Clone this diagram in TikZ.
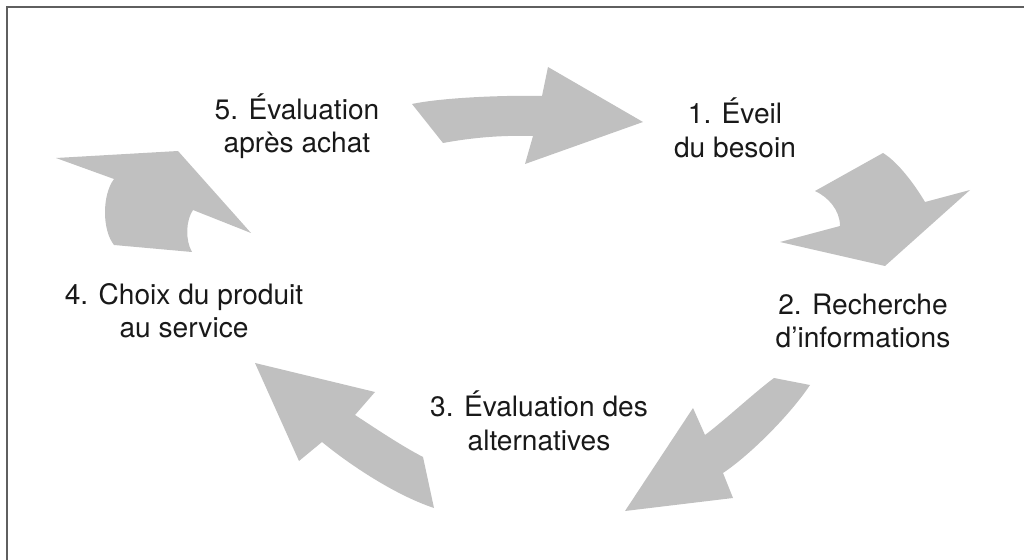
\documentclass[tikz,border=0pt]{standalone}
\usepackage{fontspec}
\setmainfont{TeX Gyre Heros}
\usepackage{tikz}
\definecolor{flechegris}{RGB}{192,192,192}
\definecolor{cadregris}{RGB}{95,95,95}

\begin{document}
\begin{tikzpicture}[x=0.02cm, y=-0.02cm,
  etape/.style={align=center, font=\fontsize{16}{19}\selectfont, text=black!90, inner sep=0pt},
  fleche/.style={fill=flechegris, draw=none}]
\useasboundingbox (0,0) rectangle (1024,560);
\draw[cadregris, line width=1.1pt] (7,560) -- (7,7) -- (1024,7);

\node[etape] (E5) at (297,126) {5. Évaluation\\après achat};
\node[etape] (E1) at (735,128) {1. Éveil\\du besoin};
\node[etape] (E2) at (863,321) {2. Recherche\\d’informations};
\node[etape] (E3) at (539,421) {3. Évaluation des\\alternatives};
\node[etape] (E4) at (184,311) {4. Choix du produit\\au service};

% 5 -> 1
\fill[fleche] (412,104) .. controls (440,98) and (500,95) .. (542,96) -- (548,67) -- (643,122)
  -- (525,164) -- (533,136) .. controls (500,135) and (470,138) .. (443,143) -- cycle;
% 1 -> 2
\fill[fleche] (815,191) -- (883,153) .. controls (898,162) and (915,185) .. (925,202)
  -- (970,190) -- (885,266) -- (780,242) -- (840,226) .. controls (840,210) and (828,197) .. cycle;
% 2 -> 3
\fill[fleche] (810,385) -- (774,378) .. controls (755,392) and (725,420) .. (705,435)
  -- (693,408) -- (625,511) -- (733,498) -- (723,473) .. controls (750,455) and (790,415) .. cycle;
% 3 -> 4
\fill[fleche] (434,508) -- (423,457) .. controls (400,445) and (375,428) .. (355,415)
  -- (375,392) -- (255,363) -- (299,461) -- (322,442) .. controls (350,465) and (395,495) .. cycle;
% 4 -> 5
\fill[fleche] (114,245) -- (192,252) .. controls (185,240) and (186,220) .. (193,210)
  -- (251,233) -- (178,151) -- (56,158) -- (114,179) .. controls (102,195) and (102,230) .. cycle;
%
\end{tikzpicture}
\end{document}
